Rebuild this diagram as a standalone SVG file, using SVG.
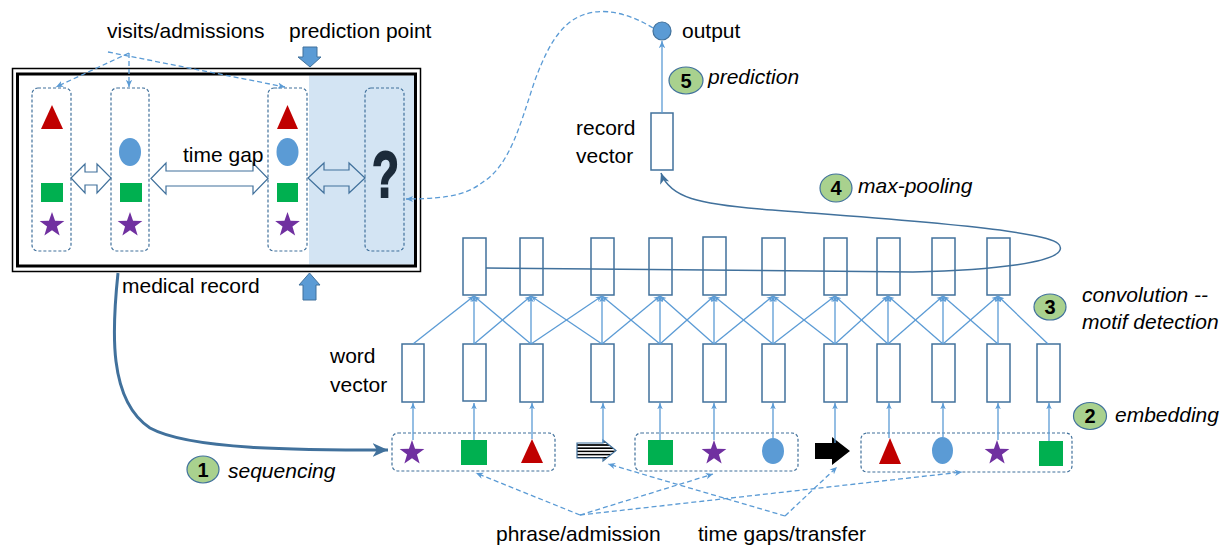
<svg xmlns="http://www.w3.org/2000/svg" xmlns:xlink="http://www.w3.org/1999/xlink" width="1228" height="546" viewBox="0 0 1228 546">
<style>
.t{font-family:"Liberation Sans",Arial,sans-serif;font-size:21px;fill:#000}
.it{font-style:italic}
.badge{fill:#a9d18e;stroke:#41719c;stroke-width:1.2}
.bn{font-family:"Liberation Sans",Arial,sans-serif;font-weight:bold;font-size:20px;text-anchor:middle;fill:#000}
.vec{fill:#fff;stroke:#41719c;stroke-width:1.5}
.conv{stroke:#5b9bd5;stroke-width:1.3;fill:none}
.dash{stroke:#5b9bd5;stroke-width:1.3;stroke-dasharray:5 3;fill:none}
.dbox{fill:none;stroke:#41719c;stroke-width:1.2;stroke-dasharray:3 2}
.tri{fill:#c00000}.sq{fill:#00b050}.star{fill:#7030a0}.ell{fill:#5b9bd5}
.harrow{fill:none;stroke:#41719c;stroke-width:1.2}
.blk{fill:#5b9bd5;stroke:#41719c;stroke-width:1}
</style>
<defs>
<path id="star" d="M0,-13 L3.06,-4.21 L12.36,-4.02 L4.95,1.61 L7.64,10.52 L0,5.2 L-7.64,10.52 L-4.95,1.61 L-12.36,-4.02 L-3.06,-4.21 Z"/>
<marker id="ah" viewBox="0 0 10 10" refX="9" refY="5" markerWidth="8" markerHeight="8" orient="auto" markerUnits="userSpaceOnUse"><path d="M0,1 L9,5 L0,9 L2.5,5 Z" fill="#5b9bd5"/></marker>
<marker id="ahs" viewBox="0 0 10 10" refX="9" refY="5" markerWidth="7" markerHeight="7" orient="auto" markerUnits="userSpaceOnUse"><path d="M0,1 L9,5 L0,9 L2.5,5 Z" fill="#5b9bd5"/></marker>
<marker id="ahd" viewBox="0 0 10 10" refX="9" refY="5" markerWidth="12" markerHeight="12" orient="auto" markerUnits="userSpaceOnUse"><path d="M0,1 L9,5 L0,9 L2.5,5 Z" fill="#41719c"/></marker>
<marker id="ahb" viewBox="0 0 10 10" refX="9" refY="5" markerWidth="17" markerHeight="17" orient="auto" markerUnits="userSpaceOnUse"><path d="M0,1 L9,5 L0,9 L2.5,5 Z" fill="#41719c"/></marker>
<pattern id="stripes" patternUnits="userSpaceOnUse" x="0" y="441" width="4" height="3.2"><rect width="4" height="3.2" fill="#fff"/><rect width="4" height="1.6" fill="#000"/></pattern>
</defs>

<g id="medical-record">
<rect x="309" y="75.5" width="105" height="189" fill="#d3e4f3"/>
<rect x="12.5" y="68.5" width="408" height="203" fill="none" stroke="#000" stroke-width="1.5"/>
<rect x="17.5" y="74" width="398" height="192" fill="none" stroke="#000" stroke-width="3"/>
<rect class="dbox" x="32" y="88" width="39" height="163" rx="6"/>
<rect class="dbox" x="111" y="88" width="38" height="163" rx="6"/>
<rect class="dbox" x="268" y="88" width="39" height="163" rx="6"/>
<rect class="dbox" x="365" y="88" width="39" height="163" rx="6"/>
<polygon class="tri" points="41,129 52,105 63,129"/>
<rect class="sq" x="41" y="183" width="22" height="19"/>
<use href="#star" class="star" transform="translate(52,225)"/>
<ellipse class="ell" cx="130" cy="152" rx="11" ry="14"/>
<rect class="sq" x="120" y="183" width="22" height="19"/>
<use href="#star" class="star" transform="translate(130,225)"/>
<polygon class="tri" points="277,129 287.5,105 298,129"/>
<ellipse class="ell" cx="287.5" cy="152" rx="11" ry="14"/>
<rect class="sq" x="277" y="183" width="21" height="19"/>
<use href="#star" class="star" transform="translate(287.5,225)"/>
<text transform="translate(372,197) scale(0.68,1)" font-family="Liberation Sans,Arial,sans-serif" font-weight="bold" font-size="65" fill="#1c2b3a" stroke="#1c2b3a" stroke-width="2">?</text>
<path class="harrow" d="M71,178 L85,164 L85,172 L97,172 L97,164 L111,178 L97,193 L97,185 L85,185 L85,193 Z"/>
<path class="harrow" d="M151,178.5 L166,163 L166,171 L253,171 L253,163 L268,178.5 L253,194 L253,186 L166,186 L166,194 Z"/>
<path class="harrow" d="M308,178 L324,163 L324,170 L349,170 L349,163 L365,178 L349,193 L349,186 L324,186 L324,193 Z"/>
<text class="t" x="183" y="162">time gap</text>
<path class="blk" d="M303,47 L317,47 L317,57 L321,57 L310,67 L298,57 L303,57 Z"/>
<path class="blk" d="M309.5,273 L320,285 L316,285 L316,300 L303,300 L303,285 L299,285 Z"/>
<text class="t" x="107" y="38">visits/admissions</text>
<text class="t" x="289" y="38">prediction point</text>
<text class="t" x="122" y="293">medical record</text>
</g>

<g id="output-node">
<circle cx="662" cy="31" r="9" fill="#5b9bd5" stroke="#41719c" stroke-width="1.2"/>
<text class="t" x="682" y="38">output</text>
</g>

<g id="record-vector">
<rect class="vec" x="651" y="113" width="22" height="57"/>
<text class="t" x="576" y="135">record</text>
<text class="t" x="576" y="163">vector</text>
</g>

<g id="conv-layer">
<rect class="vec" x="463" y="238" width="23" height="57"/>
<rect class="vec" x="520" y="238" width="23" height="57"/>
<rect class="vec" x="591" y="238" width="23" height="57"/>
<rect class="vec" x="649" y="238" width="23" height="57"/>
<rect class="vec" x="703" y="237" width="23" height="58"/>
<rect class="vec" x="762" y="238" width="23" height="57"/>
<rect class="vec" x="824" y="238" width="23" height="57"/>
<rect class="vec" x="877" y="238" width="23" height="57"/>
<rect class="vec" x="932" y="238" width="23" height="57"/>
<rect class="vec" x="987" y="238" width="23" height="57"/>
</g>

<g id="word-vectors">
<rect class="vec" x="402" y="344" width="22" height="58"/>
<rect class="vec" x="463" y="344" width="23" height="57"/>
<rect class="vec" x="520" y="344" width="23" height="58"/>
<rect class="vec" x="591" y="344" width="23" height="58"/>
<rect class="vec" x="649" y="344" width="23" height="58"/>
<rect class="vec" x="703" y="344" width="23" height="58"/>
<rect class="vec" x="762" y="344" width="23" height="58"/>
<rect class="vec" x="824" y="344" width="23" height="58"/>
<rect class="vec" x="877" y="344" width="23" height="58"/>
<rect class="vec" x="932" y="344" width="23" height="58"/>
<rect class="vec" x="987" y="344" width="23" height="58"/>
<rect class="vec" x="1037" y="344" width="23" height="58"/>
<text class="t" x="330" y="363">word</text>
<text class="t" x="330" y="392">vector</text>
</g>

<g id="sequence">
<rect class="dbox" x="392" y="433" width="163" height="38" rx="6"/>
<rect class="dbox" x="635" y="433" width="163" height="38" rx="6"/>
<rect class="dbox" x="861" y="433" width="211" height="39" rx="6"/>
<use href="#star" class="star" transform="translate(412,453)"/>
<rect class="sq" x="461" y="440" width="26" height="25"/>
<polygon class="tri" points="521,463 532,439 543,463"/>
<path d="M577,443 L603,443 L603,440 L616,450.5 L603,461 L603,458 L577,458 Z" fill="url(#stripes)" stroke="#41719c" stroke-width="1.2"/>
<rect class="sq" x="648" y="440" width="25" height="25"/>
<use href="#star" class="star" transform="translate(714,453)"/>
<ellipse class="ell" cx="773" cy="451" rx="11" ry="13"/>
<path d="M815,443 L832,443 L832,437 L850,451 L832,465 L832,459 L815,459 Z" fill="#000"/>
<polygon class="tri" points="879,464 890,438 901,464"/>
<ellipse class="ell" cx="942.5" cy="450.5" rx="10.5" ry="13.5"/>
<use href="#star" class="star" transform="translate(997,453)"/>
<rect class="sq" x="1039" y="441" width="24" height="25"/>
</g>

<g id="badges">
<ellipse class="badge" cx="203" cy="469.5" rx="16" ry="13.5"/><text class="bn" x="203" y="476.5">1</text>
<text class="t it" x="228" y="478">sequencing</text>
<ellipse class="badge" cx="1090" cy="416" rx="16.5" ry="13.5"/><text class="bn" x="1090" y="423">2</text>
<text class="t it" x="1115" y="422">embedding</text>
<ellipse class="badge" cx="1050" cy="307" rx="16" ry="13"/><text class="bn" x="1050" y="314">3</text>
<text class="t it" x="1082" y="302">convolution --</text>
<text class="t it" x="1082" y="329">motif detection</text>
<ellipse class="badge" cx="836" cy="188" rx="16" ry="14"/><text class="bn" x="836" y="195">4</text>
<text class="t it" x="858" y="193">max-pooling</text>
<ellipse class="badge" cx="686" cy="80.5" rx="17" ry="13.5"/><text class="bn" x="686" y="87.5">5</text>
<text class="t it" x="708" y="84">prediction</text>
<text class="t" x="496" y="541">phrase/admission</text>
<text class="t" x="698" y="541">time gaps/transfer</text>
</g>

<g id="connectors">
<path class="dash" d="M129,53 L56,87" marker-end="url(#ah)"/>
<path class="dash" d="M129,53 L129,87" marker-end="url(#ah)"/>
<path class="dash" d="M108,52 L285,87" marker-end="url(#ah)"/>
<path class="dash" d="M653,28 C630,14 610,10 595,12 C565,16 550,40 535,80 C520,125 510,165 483,182 C470,192 455,199 406,199" marker-end="url(#ah)"/>
<line class="conv" x1="662" y1="113" x2="662" y2="41" marker-end="url(#ah)"/>
<path d="M486,268 L913,272 C1000,270 1055,262 1060,250 C1064,240 1040,236 1000,230 C930,221 850,216 760,209 C700,204 670,198 661,173" fill="none" stroke="#41719c" stroke-width="1.5" marker-end="url(#ahd)"/>
<path d="M118,273 C112,330 108,400 150,428 C190,450 300,450 388,450" fill="none" stroke="#41719c" stroke-width="3" marker-end="url(#ahb)"/>
<g marker-end="url(#ahs)" class="conv">
<line x1="413" y1="344" x2="474" y2="296"/><line x1="474" y1="344" x2="474" y2="296"/><line x1="531" y1="344" x2="474" y2="296"/>
<line x1="474" y1="344" x2="531" y2="296"/><line x1="531" y1="344" x2="531" y2="296"/><line x1="602" y1="344" x2="531" y2="296"/>
<line x1="531" y1="344" x2="602" y2="296"/><line x1="602" y1="344" x2="602" y2="296"/><line x1="660" y1="344" x2="602" y2="296"/>
<line x1="602" y1="344" x2="660" y2="296"/><line x1="660" y1="344" x2="660" y2="296"/><line x1="714" y1="344" x2="660" y2="296"/>
<line x1="660" y1="344" x2="714" y2="296"/><line x1="714" y1="344" x2="714" y2="296"/><line x1="773" y1="344" x2="714" y2="296"/>
<line x1="714" y1="344" x2="773" y2="296"/><line x1="773" y1="344" x2="773" y2="296"/><line x1="835" y1="344" x2="773" y2="296"/>
<line x1="773" y1="344" x2="835" y2="296"/><line x1="835" y1="344" x2="835" y2="296"/><line x1="888" y1="344" x2="835" y2="296"/>
<line x1="835" y1="344" x2="888" y2="296"/><line x1="888" y1="344" x2="888" y2="296"/><line x1="943" y1="344" x2="888" y2="296"/>
<line x1="888" y1="344" x2="943" y2="296"/><line x1="943" y1="344" x2="943" y2="296"/><line x1="998" y1="344" x2="943" y2="296"/>
<line x1="943" y1="344" x2="998" y2="296"/><line x1="998" y1="344" x2="998" y2="296"/><line x1="1048" y1="344" x2="998" y2="296"/>
<line x1="413" y1="440" x2="413" y2="403"/><line x1="474" y1="440" x2="474" y2="403"/><line x1="532" y1="439" x2="532" y2="403"/>
<line x1="603" y1="443" x2="603" y2="403"/><line x1="660" y1="440" x2="660" y2="403"/><line x1="714" y1="440" x2="714" y2="403"/>
<line x1="773" y1="438" x2="773" y2="403"/><line x1="835" y1="443" x2="835" y2="403"/><line x1="889" y1="438" x2="889" y2="403"/>
<line x1="943" y1="437" x2="943" y2="403"/><line x1="998" y1="440" x2="998" y2="403"/><line x1="1049" y1="441" x2="1049" y2="403"/>
</g>
<g class="dash" marker-end="url(#ah)">
<line x1="580" y1="515" x2="476" y2="473"/>
<line x1="580" y1="515" x2="713" y2="474"/>
<line x1="580" y1="515" x2="962" y2="472"/>
<line x1="785" y1="516" x2="608" y2="464"/>
<line x1="785" y1="516" x2="837" y2="467"/>
</g>
</g>
</svg>
